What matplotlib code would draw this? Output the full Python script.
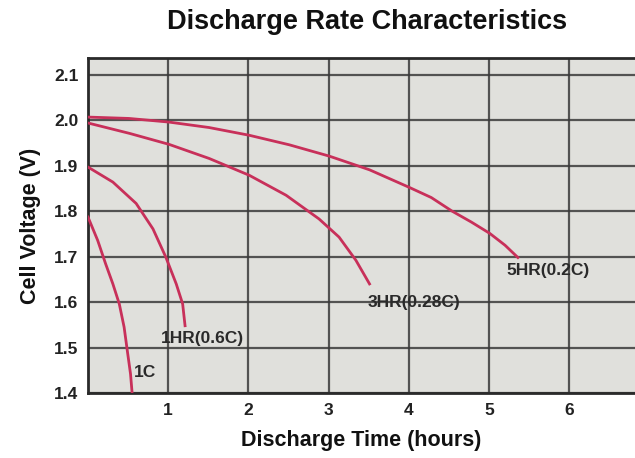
import matplotlib
matplotlib.use("Agg")
import matplotlib.pyplot as plt

# discharge curves (hours, volts)
t_1c = [0.0, 0.12, 0.22, 0.31, 0.39, 0.45, 0.49, 0.53, 0.55]
v_1c = [1.787, 1.736, 1.684, 1.64, 1.596, 1.545, 1.493, 1.442, 1.40]

t_1hr = [0.0, 0.31, 0.6, 0.81, 0.97, 1.1, 1.18, 1.21]
v_1hr = [1.897, 1.864, 1.817, 1.761, 1.699, 1.64, 1.596, 1.548]

t_3hr = [0.0, 0.52, 1.01, 1.51, 2.01, 2.47, 2.88, 3.13, 3.34, 3.51]
v_3hr = [1.994, 1.971, 1.947, 1.916, 1.879, 1.835, 1.783, 1.743, 1.692, 1.64]

t_5hr = [0.0, 0.51, 1.01, 1.51, 2.01, 2.51, 3.01, 3.51, 4.01, 4.28, 4.54,
         4.78, 5.01, 5.2, 5.36]
v_5hr = [2.007, 2.004, 1.996, 1.984, 1.967, 1.946, 1.921, 1.891, 1.852, 1.83,
         1.80, 1.776, 1.751, 1.725, 1.698]

labels = ["1C", "1HR(0.6C)", "3HR(0.28C)", "5HR(0.2C)"]
label_pos = [(0.71, 1.445), (1.43, 1.52), (4.07, 1.60), (5.73, 1.67)]

x_ticks = [1, 2, 3, 4, 5, 6]
y_ticks = [1.4, 1.5, 1.6, 1.7, 1.8, 1.9, 2.0, 2.1]

plt.rcParams['font.family'] = ['Liberation Sans', 'DejaVu Sans']

fig = plt.figure(figsize=(6.35, 4.58), dpi=100)
ax = fig.add_axes([0.1386, 0.1419, 0.8614, 0.7315])
ax.set_facecolor('#e0e0dc')

line_color = '#c8305a'
for t, v in [(t_1c, v_1c), (t_1hr, v_1hr), (t_3hr, v_3hr), (t_5hr, v_5hr)]:
    ax.plot(t, v, color=line_color, linewidth=2, zorder=3,
            solid_joinstyle='round')

for txt, (x, y) in zip(labels, label_pos):
    ax.text(x, y, txt, fontsize=12.5, fontweight='bold', color='#2a2a2a',
            ha='center', va='center', zorder=4)

ax.set_xlim(0, 6.82)
ax.set_ylim(1.4, 2.137)
ax.set_xticks(x_ticks)
ax.set_yticks(y_ticks)
ax.set_xticklabels([str(x) for x in x_ticks])
ax.set_yticklabels(["%.1f" % y for y in y_ticks])
ax.tick_params(length=0, labelsize=12.5, pad=7)
for lab in ax.get_xticklabels() + ax.get_yticklabels():
    lab.set_fontweight('bold')
    lab.set_color('#222222')

ax.grid(True, color='#3a3a3a', linewidth=1.6, alpha=0.85)
ax.set_axisbelow(True)
for side in ['top', 'left', 'bottom']:
    ax.spines[side].set_color('#2a2a2a')
    ax.spines[side].set_linewidth(2)
ax.spines['right'].set_visible(False)

fig.text(0.578, 0.952, "Discharge Rate Characteristics", fontsize=19.5,
         fontweight='bold', ha='center', va='center', color='#111111')
ax.set_xlabel("Discharge Time (hours)", fontsize=15.5, fontweight='bold',
              color='#111111', labelpad=9)
ax.set_ylabel("Cell Voltage (V)", fontsize=15.5, fontweight='bold',
              color='#111111', labelpad=9)

fig.savefig("out.png", dpi=100)
